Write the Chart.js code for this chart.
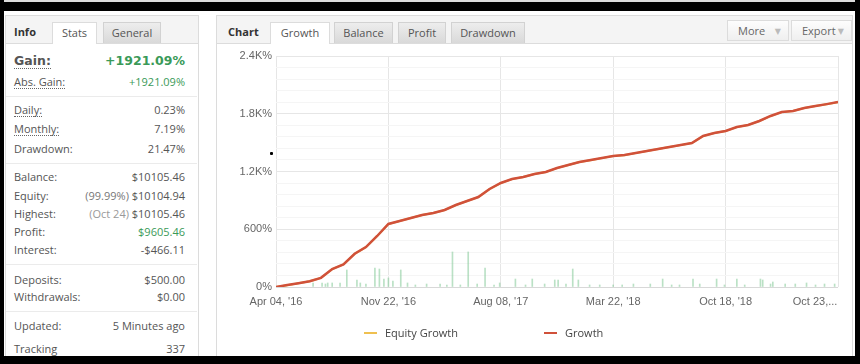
<!DOCTYPE html>
<html>
<head>
<meta charset="utf-8">
<script src="https://cdn.jsdelivr.net/npm/chart.js@4.4.1/dist/chart.umd.min.js"></script>
<style>
  html, body { margin: 0; padding: 0; }
  body { width: 860px; height: 364px; position: relative; overflow: hidden; background: #fff;
         font-family: "Open Sans", "DejaVu Sans", sans-serif; font-size: 11px; color: #555; }
  .a { position: absolute; white-space: nowrap; }
  .panel { position: absolute; top: 15px; height: 360px; background: #fff; border: 1px solid #dcdcdc; box-sizing: border-box; }
  .head { position: absolute; top: 15px; height: 29px; background: #f4f4f4; border: 1px solid #dcdcdc; box-sizing: border-box; }
  .tab { position: absolute; top: 22px; height: 21px; line-height: 20px; text-align: center; box-sizing: border-box;
         border: 1px solid #d2d2d2; border-bottom: none; background: linear-gradient(#ededed, #d9d9d9); color: #555; }
  .tab.on { background: #fff; height: 22px; border-color: #dcdcdc; }
  .btn { position: absolute; top: 20px; height: 21px; line-height: 19px; box-sizing: border-box; border: 1px solid #dcdcdc;
         background: linear-gradient(#fdfdfd, #efefef); color: #666; padding-left: 10px; }
  .btn i { font-style: normal; color: #bbb; font-size: 8px; position: absolute; right: 7px; top: 0; }
  .bold { font-weight: bold; color: #333; }
  .lab { position: absolute; left: 14px; height: 16px; line-height: 16px; }
  .val { position: absolute; right: 675px; height: 16px; line-height: 16px; text-align: right; white-space: nowrap; }
  .dot { border-bottom: 1px dotted #666; line-height: 13px; display: inline-block; }
  .green { color: #3a9a58; }
  .grey { color: #999; }
  .sep { position: absolute; left: 6px; width: 191px; height: 1px; background: #ebebeb; }
  .frame { position: absolute; background: #000; z-index: 5; }
  #chartBox { position: absolute; left: 218px; top: 44px; width: 632px; height: 300px; }
  .leg { position: absolute; top: 325px; height: 16px; line-height: 16px; color: #444; }
  .legline { position: absolute; top: 332px; height: 2px; }
</style>
</head>
<body>
<!-- outer black frame -->
<div class="frame" style="left:0;top:0;width:860px;height:2px;background:#dcdcdc"></div>
<div class="frame" style="left:0;top:2px;width:860px;height:9px"></div>
<div class="frame" style="left:0;top:0;width:4px;height:364px"></div>
<div class="frame" style="left:855px;top:0;width:5px;height:364px"></div>
<div class="frame" style="left:0;top:356px;width:860px;height:8px"></div>

<!-- left info panel -->
<div class="panel" style="left:5px;width:194px"></div>
<div class="head" style="left:5px;width:194px"></div>
<div class="a bold" style="left:14px;top:24px;line-height:16px">Info</div>
<div class="tab on" style="left:52px;width:45px">Stats</div>
<div class="tab" style="left:103px;width:58px">General</div>

<div class="lab" style="top:53px;font-family:'DejaVu Sans';font-weight:bold;font-size:12.5px;color:#555"><span class="dot" style="line-height:15px">Gain:</span></div>
<div class="val green" style="top:53px;font-family:'DejaVu Sans';font-weight:bold;font-size:12.5px">+1921.09%</div>
<div class="lab" style="top:74px"><span class="dot">Abs. Gain:</span></div>
<div class="val green" style="top:74px">+1921.09%</div>
<div class="sep" style="top:96px"></div>
<div class="lab" style="top:102px"><span class="dot">Daily:</span></div>
<div class="val" style="top:102px">0.23%</div>
<div class="lab" style="top:121px"><span class="dot">Monthly:</span></div>
<div class="val" style="top:121px">7.19%</div>
<div class="lab" style="top:141px">Drawdown:</div>
<div class="val" style="top:141px">21.47%</div>
<div class="sep" style="top:163px"></div>
<div class="lab" style="top:169px">Balance:</div>
<div class="val" style="top:169px">$10105.46</div>
<div class="lab" style="top:188px">Equity:</div>
<div class="val" style="top:188px"><span style="color:#777">(99.99%)</span> $10104.94</div>
<div class="lab" style="top:206px">Highest:</div>
<div class="val" style="top:206px"><span class="grey">(Oct 24)</span> $10105.46</div>
<div class="lab" style="top:224px">Profit:</div>
<div class="val green" style="top:224px">$9605.46</div>
<div class="lab" style="top:242px">Interest:</div>
<div class="val" style="top:242px">-$466.11</div>
<div class="sep" style="top:264px"></div>
<div class="lab" style="top:272px">Deposits:</div>
<div class="val" style="top:272px">$500.00</div>
<div class="lab" style="top:289px">Withdrawals:</div>
<div class="val" style="top:289px">$0.00</div>
<div class="sep" style="top:311px"></div>
<div class="lab" style="top:318px">Updated:</div>
<div class="val" style="top:318px">5 Minutes ago</div>
<div class="lab" style="top:341px">Tracking</div>
<div class="val" style="top:341px">337</div>

<!-- chart panel -->
<div class="panel" style="left:216px;width:637px"></div>
<div class="head" style="left:216px;width:637px"></div>
<div class="a bold" style="left:228px;top:24px;line-height:16px">Chart</div>
<div class="tab on" style="left:270px;width:60px">Growth</div>
<div class="tab" style="left:334px;width:59px">Balance</div>
<div class="tab" style="left:398px;width:48px">Profit</div>
<div class="tab" style="left:451px;width:74px">Drawdown</div>
<div class="btn" style="left:727px;width:62px">More<i>&#9660;</i></div>
<div class="btn" style="left:791px;width:61px">Export<i>&#9660;</i></div>

<div id="chartBox"><canvas id="growthChart"></canvas></div>
<div class="a" style="left:270px;top:152px;width:3px;height:3px;background:#000;border-radius:1px"></div>

<div class="legline" style="left:364px;width:13px;background:#efc050"></div>
<div class="leg" style="left:385px">Equity Growth</div>
<div class="legline" style="left:544px;width:13px;background:#d0513a"></div>
<div class="leg" style="left:565px">Growth</div>

<script>
// Growth chart (index positions 0..50, ticks every 10)
const xTickLabels = ["Apr 04, '16", "Nov 22, '16", "Aug 08, '17", "Mar 22, '18", "Oct 18, '18", "Oct 23,..."];
const yTickLabels = ['0%', '600%', '1.2K%', '1.8K%', '2.4K%'];

const growth = [0, 20, 40, 60, 95, 187, 235, 345, 415, 530,
  655, 686, 717, 748, 769, 800, 852, 894, 935, 1018,
  1081, 1122, 1143, 1174, 1195, 1236, 1268, 1299, 1319, 1340,
  1361, 1371, 1392, 1413, 1434, 1455, 1475, 1496, 1569, 1600,
  1621, 1662, 1683, 1725, 1777, 1818, 1829, 1860, 1881, 1900, 1921];
const equityGrowth = [0, 19, 39, 59, 94, 186, 234, 344, 414, 529,
  654, 685, 716, 747, 768, 799, 851, 893, 934, 1017,
  1080, 1121, 1142, 1173, 1194, 1235, 1267, 1298, 1318, 1339,
  1360, 1370, 1391, 1412, 1433, 1454, 1474, 1495, 1568, 1599,
  1620, 1661, 1682, 1724, 1776, 1817, 1828, 1859, 1880, 1899, 1920];

// green daily spikes: position (same index units) and height in %
const spikeAt = [3.3, 4.1, 4.4, 4.6, 5.0, 5.7, 6.3, 7.2, 7.5, 8.0, 8.8, 9.2, 9.6, 10.0, 10.4, 11.1, 11.7, 12.4,
  13.4, 14.6, 15.2, 15.7, 16.4, 17.1, 17.9, 18.6, 19.4, 19.9, 21.3, 22.2, 22.8, 23.9, 24.8, 25.1, 25.8,
  26.4, 26.9, 27.9, 28.8, 30.0, 30.8, 31.8, 33.3, 34.4, 35.2, 35.9, 37.1, 37.7, 39.2, 39.9, 41.0, 41.7,
  43.1, 43.3, 44.0, 44.2, 45.3, 46.2, 47.2, 48.0, 48.8, 49.7];
const spikeVal = [42, 42, 31, 42, 42, 42, 177, 73, 42, 31, 197, 187, 83, 94, 62, 177, 42, 21,
  31, 31, 21, 364, 21, 364, 31, 197, 21, 42, 83, 21, 83, 31, 73, 73, 31,
  187, 73, 21, 21, 21, 21, 31, 31, 83, 21, 21, 83, 31, 83, 21, 83, 21,
  83, 73, 31, 52, 31, 31, 42, 21, 31, 31];

Chart.defaults.font.family = '"Liberation Sans", Arial, sans-serif';
Chart.defaults.font.size = 11;
Chart.defaults.color = '#666';

new Chart(document.getElementById('growthChart').getContext('2d'), {
  data: {
    datasets: [
      { type: 'line', label: 'Growth', data: growth.map((y, i) => ({ x: i, y })),
        borderColor: '#d0513a', borderWidth: 2.5, pointRadius: 0, tension: 0, order: 0 },
      { type: 'line', label: 'Equity Growth', data: equityGrowth.map((y, i) => ({ x: i, y })),
        borderColor: '#efc050', borderWidth: 2, pointRadius: 0, tension: 0, order: 1 },
      { type: 'bar', label: 'Daily', data: spikeAt.map((x, i) => ({ x, y: spikeVal[i] })),
        backgroundColor: 'rgba(130,200,150,0.55)', barThickness: 1, order: 2 },
    ],
  },
  options: {
    responsive: true, maintainAspectRatio: false, animation: false,
    layout: { padding: { top: 12, right: 12, left: 0, bottom: 0 } },
    plugins: { legend: { display: false }, tooltip: { enabled: false } },
    scales: {
      x: {
        type: 'linear', min: 0, max: 50, offset: false,
        border: { display: false },
        grid: { color: '#e6e6e6', drawTicks: false, offset: false },
        ticks: { stepSize: 10, autoSkip: false, maxRotation: 0, padding: 8, color: '#666',
                 callback: (v, i) => i === 5 ? xTickLabels[i] + '               ' : xTickLabels[i] },
        afterFit: s => { s.height = 57; s.paddingLeft = 0; s.paddingRight = 0; },
      },
      y: {
        min: 0, max: 2400,
        border: { display: false },
        grid: { drawTicks: false, color: c => c.tick.value === 0 ? '#d8d8d8' : (c.tick.value % 600 === 0 ? '#e6e6e6' : '#f5f5f5') },
        ticks: { stepSize: 120, autoSkip: false, padding: 4, color: '#666',
                 callback: v => v % 600 === 0 ? yTickLabels[v / 600] : '' },
        afterFit: s => { s.width = 58; },
      },
    },
  },
});
</script>
</body>
</html>
